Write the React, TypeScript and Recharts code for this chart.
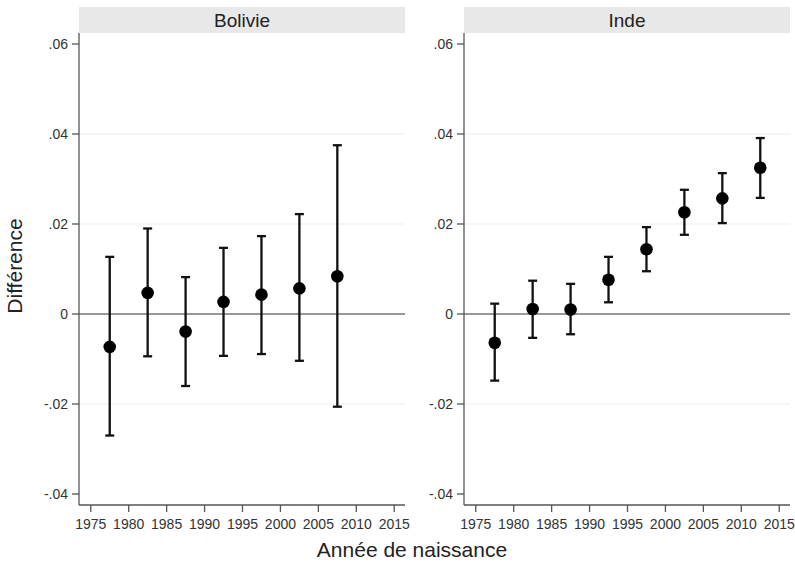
import React from 'react';
import { ScatterChart, Scatter, XAxis, YAxis, ErrorBar, ReferenceLine } from 'recharts';

const yearTicks = [1975, 1980, 1985, 1990, 1995, 2000, 2005, 2010, 2015];
const diffTicks = [-0.04, -0.02, 0, 0.02, 0.04, 0.06];
const gridValues = [-0.02, 0.02, 0.04];

const boliviaYears = [1977.5, 1982.5, 1987.5, 1992.5, 1997.5, 2002.5, 2007.5];
const boliviaDiff = [-0.0073, 0.0047, -0.0039, 0.0027, 0.0043, 0.0057, 0.0084];
const boliviaLow = [-0.027, -0.0094, -0.016, -0.0093, -0.0089, -0.0104, -0.0206];
const boliviaHigh = [0.0127, 0.019, 0.0082, 0.0147, 0.0173, 0.0222, 0.0375];

const indiaYears = [1977.5, 1982.5, 1987.5, 1992.5, 1997.5, 2002.5, 2007.5, 2012.5];
const indiaDiff = [-0.0064, 0.0011, 0.001, 0.0076, 0.0144, 0.0226, 0.0257, 0.0325];
const indiaLow = [-0.0148, -0.0053, -0.0045, 0.0026, 0.0095, 0.0176, 0.0202, 0.0258];
const indiaHigh = [0.0023, 0.0074, 0.0067, 0.0127, 0.0193, 0.0276, 0.0313, 0.0391];

const FONT = '"Liberation Sans", Arial, sans-serif';
const AXIS = '#555555';
const TEXT = '#333333';

function build(years: number[], diff: number[], low: number[], high: number[]) {
  return years.map((y, i) => ({
    year: y,
    diff: diff[i],
    err: [diff[i] - low[i], high[i] - diff[i]],
  }));
}

const fmtY = (v: number) => {
  if (Math.abs(v) < 1e-9) return '0';
  const s = Math.abs(v).toFixed(2).replace(/^0/, '');
  return (v < 0 ? '-' : '') + s;
};

const Dot = (p: any) => <circle cx={p.cx} cy={p.cy} r={6.3} fill="#000" />;

function Panel({ title, data, left, width, marginLeft }: any) {
  return (
    <div style={{ position: 'absolute', left, top: 0, width, height: 563 }}>
      <div
        style={{
          position: 'absolute',
          left: marginLeft + 50,
          top: 7,
          width: width - marginLeft - 50 - 5,
          height: 26,
          background: '#e8e8e8',
          color: '#222',
          fontFamily: FONT,
          fontSize: 19,
          lineHeight: '27px',
          textAlign: 'center',
        }}
      >
        {title}
      </div>
      <ScatterChart
        width={width}
        height={563}
        margin={{ top: 33, right: 5, bottom: 28, left: marginLeft }}
        style={{ fontFamily: FONT }}
      >
        <XAxis
          type="number"
          dataKey="year"
          domain={[1973.45, 2016.42]}
          ticks={yearTicks}
          interval={0}
          allowDataOverflow
          height={30}
          tickSize={7}
          tickMargin={7}
          axisLine={{ stroke: AXIS, strokeWidth: 1.3 }}
          tickLine={{ stroke: AXIS, strokeWidth: 1.3 }}
          tick={{ fill: TEXT, fontSize: 14 }}
        />
        <YAxis
          type="number"
          dataKey="diff"
          domain={[-0.04244, 0.06244]}
          ticks={diffTicks}
          interval={0}
          allowDataOverflow
          width={50}
          tickSize={7}
          tickMargin={4}
          tickFormatter={fmtY}
          axisLine={{ stroke: AXIS, strokeWidth: 1.3 }}
          tickLine={{ stroke: AXIS, strokeWidth: 1.3 }}
          tick={{ fill: TEXT, fontSize: 14 }}
        />
        {gridValues.map((g) => (
          <ReferenceLine key={g} y={g} stroke="#eeeeee" strokeWidth={1.2} />
        ))}
        <ReferenceLine y={0} stroke="#333" strokeWidth={1} />
        <Scatter data={data} shape={Dot} isAnimationActive={false}>
          <ErrorBar dataKey="err" direction="y" width={4.5} stroke="#111" strokeWidth={2.3} isAnimationActive={false} />
        </Scatter>
      </ScatterChart>
    </div>
  );
}

export default function App() {
  const bol = build(boliviaYears, boliviaDiff, boliviaLow, boliviaHigh);
  const ind = build(indiaYears, indiaDiff, indiaLow, indiaHigh);
  return (
    <div style={{ position: 'absolute', left: 0, top: 0, width: 795, height: 563, background: '#fff', fontFamily: FONT }}>
      <Panel title="Bolivie" data={bol} left={0} width={410} marginLeft={29} />
      <Panel title="Inde" data={ind} left={400} width={395} marginLeft={14} />
      <div
        style={{
          position: 'absolute',
          left: 15,
          top: 266,
          transform: 'translate(-50%, -50%) rotate(-90deg)',
          fontSize: 21,
          color: '#222',
          whiteSpace: 'nowrap',
          fontFamily: FONT,
        }}
      >
        Différence
      </div>
      <div
        style={{
          position: 'absolute',
          left: 412,
          top: 550,
          transform: 'translate(-50%, -50%)',
          fontSize: 21,
          color: '#222',
          whiteSpace: 'nowrap',
          fontFamily: FONT,
        }}
      >
        Année de naissance
      </div>
    </div>
  );
}
